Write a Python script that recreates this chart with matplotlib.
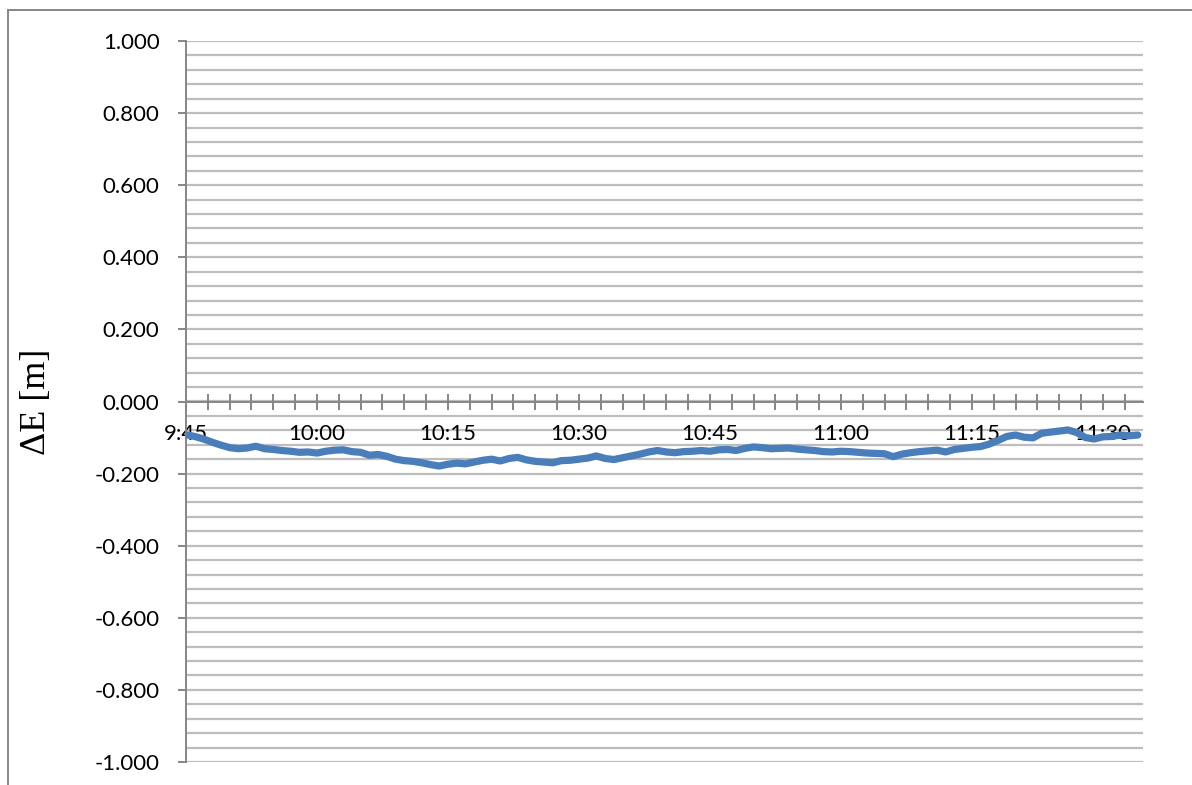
import matplotlib.pyplot as plt
from matplotlib.patches import Rectangle
import numpy as np

# 東方向の差 ΔE [m]、9:45 から 1 分ごと
minutes = np.arange(110)
delta_e = [
    -0.092, -0.097, -0.104, -0.113, -0.121, -0.128, -0.131, -0.129, -0.124, -0.131,
    -0.133, -0.136, -0.138, -0.141, -0.140, -0.143, -0.138, -0.135, -0.134, -0.139,
    -0.141, -0.149, -0.147, -0.152, -0.160, -0.164, -0.166, -0.170, -0.175, -0.179,
    -0.174, -0.171, -0.173, -0.168, -0.163, -0.160, -0.165, -0.158, -0.155, -0.162,
    -0.166, -0.168, -0.170, -0.164, -0.163, -0.160, -0.157, -0.151, -0.158, -0.161,
    -0.156, -0.151, -0.146, -0.140, -0.136, -0.140, -0.142, -0.139, -0.138, -0.136,
    -0.138, -0.134, -0.133, -0.136, -0.130, -0.126, -0.128, -0.131, -0.130, -0.129,
    -0.132, -0.134, -0.136, -0.139, -0.140, -0.138, -0.139, -0.141, -0.143, -0.144,
    -0.145, -0.153, -0.146, -0.142, -0.139, -0.137, -0.135, -0.140, -0.133, -0.130,
    -0.127, -0.125, -0.118, -0.108, -0.097, -0.093, -0.099, -0.101, -0.088, -0.085,
    -0.082, -0.079, -0.086, -0.100, -0.104, -0.098, -0.097, -0.093, -0.095, -0.093,
]
time_ticks = [0, 15, 30, 45, 60, 75, 90, 105]
time_labels = ['9:45', '10:00', '10:15', '10:30', '10:45', '11:00', '11:15', '11:30']
y_ticks = [-1.0, -0.8, -0.6, -0.4, -0.2, 0.0, 0.2, 0.4, 0.6, 0.8, 1.0]

plt.rcParams['font.family'] = ['Lato', 'DejaVu Sans']
axis_grey = '#868686'

fig = plt.figure(figsize=(11.92, 7.85), dpi=100)
ax = fig.add_axes([186 / 1192, 1 - 762 / 785, (1143 - 186) / 1192, (762 - 41) / 785])

# 横グリッド（0.04 刻み）
for g in np.arange(-1.0, 1.0001, 0.04):
    ax.axhline(g, color='#bdbdbd', lw=1.6, zorder=0)

ax.plot(minutes, delta_e, color='#4a7ebb', lw=5.2, solid_capstyle='round',
        solid_joinstyle='round', zorder=3)

ax.set_xlim(0, 109.6)
ax.set_ylim(-1.0, 1.0)

ax.spines['top'].set_visible(False)
ax.spines['right'].set_visible(False)
ax.spines['left'].set_color(axis_grey)
ax.spines['left'].set_linewidth(1.4)
ax.spines['bottom'].set_position(('data', 0.0))
ax.spines['bottom'].set_color(axis_grey)
ax.spines['bottom'].set_linewidth(1.4)

ax.set_yticks(y_ticks)
ax.set_yticklabels(['%.3f' % v for v in y_ticks])
ax.tick_params(axis='y', direction='out', length=6, width=1.4, color=axis_grey,
               labelsize=16, pad=13)

ax.set_xticks(time_ticks)
ax.set_xticklabels(time_labels)
ax.set_xticks(np.arange(2.5, 109.6, 2.5), minor=True)
ax.tick_params(axis='x', which='both', direction='inout', length=11, width=1.4,
               color=axis_grey)
ax.tick_params(axis='x', which='major', labelsize=16, pad=11)

ax.set_ylabel('ΔE [m]', family=['Liberation Serif', 'DejaVu Serif'], fontsize=26,
              labelpad=30)

# グラフ枠
fig.patches.append(Rectangle((8 / 1192, -0.2), 1.5, 1.2 - 10 / 785,
                             transform=fig.transFigure, fill=False,
                             edgecolor=axis_grey, lw=1.4))

fig.savefig('out.png', dpi=100)
